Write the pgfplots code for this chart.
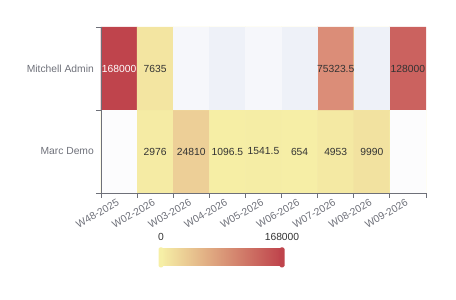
\documentclass[border=0pt]{standalone}
\usepackage{pgfplots}
\pgfplotsset{compat=1.18}
\usepackage{fontspec}
\setmainfont{Liberation Sans}
\definecolor{axisgray}{HTML}{6E7079}
\definecolor{txt}{HTML}{333333}
\definecolor{cA}{RGB}{246,239,166}
\definecolor{cB}{RGB}{216,130,115}
\definecolor{cC}{RGB}{191,68,76}
\definecolor{bgL}{HTML}{F6F7FB}
\definecolor{bgD}{HTML}{EEF1F8}
\definecolor{bgW}{HTML}{FCFCFD}
\newcommand\ff{\fontsize{10.3}{12}\selectfont}
\begin{document}
\begin{tikzpicture}[x=1pt,y=1pt]
\path[use as bounding box] (0pt,0pt) rectangle (456pt,300pt);
\begin{axis}[
  at={(101pt,107pt)}, anchor=south west,
  scale only axis, width=325pt, height=166pt,
  xmin=-0.5, xmax=8.5, ymin=-0.5, ymax=1.5,
  axis x line=bottom, axis y line=left,
  axis line style={-, draw=axisgray, line width=0.8pt},
  axis on top, clip=false,
  xtick={0,...,8},
  xticklabels={W48-2025,W02-2026,W03-2026,W04-2026,W05-2026,W06-2026,W07-2026,W08-2026,W09-2026},
  ytick={0,1},
  yticklabels={Marc Demo,Mitchell Admin},
  minor xtick={-0.5,0.5,...,8.5},
  minor ytick={-0.5,0.5,1.5},
  major tick length=0pt, minor tick length=5pt,
  tick align=outside,
  tick style={draw=axisgray, line width=0.8pt},
  xticklabel style={font=\ff, text=axisgray, rotate=30, anchor=east, inner sep=1pt},
  xticklabel shift=8pt,
  yticklabel style={font=\ff, text=axisgray, anchor=east, inner sep=0pt},
  yticklabel shift=7pt,
  colormap={ec}{rgb255=(246,239,166) rgb255=(216,130,115) rgb255=(191,68,76)},
  point meta min=0, point meta max=168000,
]
\addplot[matrix plot*, mesh/cols=9, mesh/rows=2, point meta=explicit] table[meta=v] {
x y v
0 0 0
1 0 2976
2 0 24810
3 0 1096.5
4 0 1541.5
5 0 654
6 0 4953
7 0 9990
8 0 0
0 1 168000
1 1 7635
2 1 0
3 1 0
4 1 0
5 1 0
6 1 75323.5
7 1 0
8 1 128000
};
% empty cells (background split areas)
\addplot[fill=bgL, draw=none] coordinates {(1.5,0.5) (2.5,0.5) (2.5,1.5) (1.5,1.5)} --cycle;
\addplot[fill=bgD, draw=none] coordinates {(2.5,0.5) (3.5,0.5) (3.5,1.5) (2.5,1.5)} --cycle;
\addplot[fill=bgL, draw=none] coordinates {(3.5,0.5) (4.5,0.5) (4.5,1.5) (3.5,1.5)} --cycle;
\addplot[fill=bgD, draw=none] coordinates {(4.5,0.5) (5.5,0.5) (5.5,1.5) (4.5,1.5)} --cycle;
\addplot[fill=bgD, draw=none] coordinates {(6.5,0.5) (7.5,0.5) (7.5,1.5) (6.5,1.5)} --cycle;
\addplot[fill=bgW, draw=none] coordinates {(-0.5,-0.5) (0.5,-0.5) (0.5,0.5) (-0.5,0.5)} --cycle;
\addplot[fill=bgW, draw=none] coordinates {(7.5,-0.5) (8.5,-0.5) (8.5,0.5) (7.5,0.5)} --cycle;
% value labels
\addplot[only marks, mark=none, nodes near coords, point meta=explicit symbolic,
  every node near coord/.style={anchor=center, text=txt, font=\ff}] table[meta=l] {
x y l
1 0 2976
2 0 24810
3 0 1096.5
4 0 1541.5
5 0 654
6 0 4953
7 0 9990
1 1 7635
6 1 75323.5
8 1 128000
};
\addplot[only marks, mark=none, nodes near coords, point meta=explicit symbolic,
  every node near coord/.style={anchor=center, text=white, font=\ff}] table[meta=l] {
x y l
0 1 168000
};
\end{axis}
% visual map
\shade[left color=cA, middle color=cB, right color=cC] (161pt,34pt) rectangle (281pt,51pt);
\fill[cA, rounded corners=1.5pt] (158.5pt,32.5pt) rectangle (163.5pt,52.5pt);
\fill[cC, rounded corners=1.5pt] (279.5pt,32.5pt) rectangle (284.5pt,52.5pt);
\node[font=\ff, text=txt, inner sep=0pt] at (161pt,63pt) {0};
\node[font=\ff, text=txt, inner sep=0pt] at (282pt,63pt) {168000};
\end{tikzpicture}
\end{document}
